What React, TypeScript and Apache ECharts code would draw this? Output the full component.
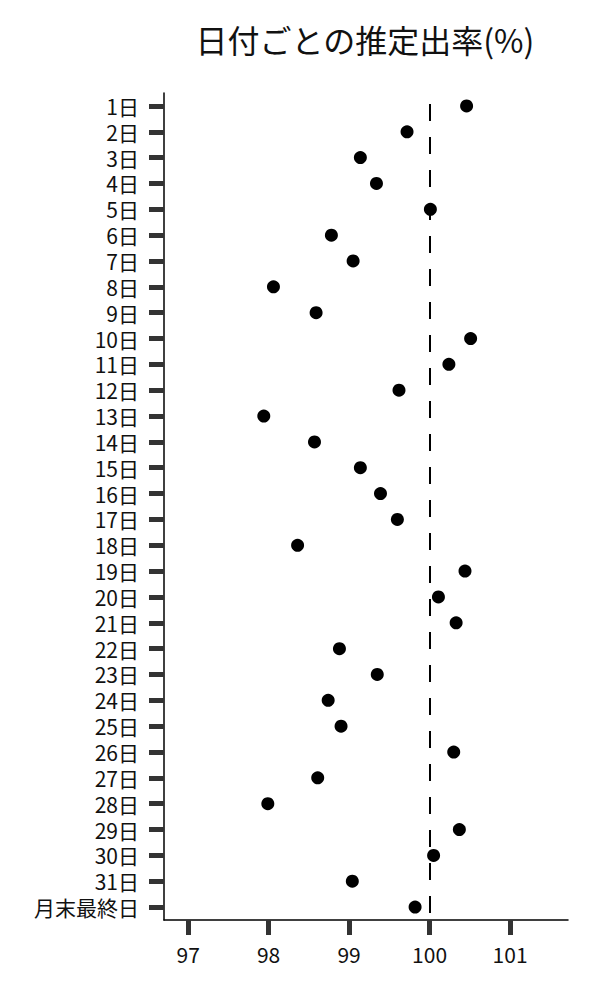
import React, { useEffect, useRef } from 'react';
import * as echarts from 'echarts';

// 日付カテゴリ（上から順）
const dayLabels: string[] = [
  '1日', '2日', '3日', '4日', '5日', '6日', '7日', '8日', '9日', '10日',
  '11日', '12日', '13日', '14日', '15日', '16日', '17日', '18日', '19日', '20日',
  '21日', '22日', '23日', '24日', '25日', '26日', '27日', '28日', '29日', '30日',
  '31日', '月末最終日',
];

// 推定出率(%)
const rateValues: number[] = [
  100.46, 99.72, 99.14, 99.34, 100.01, 98.78, 99.05, 98.06, 98.59, 100.51,
  100.24, 99.62, 97.94, 98.57, 99.14, 99.39, 99.6, 98.36, 100.44, 100.11,
  100.33, 98.88, 99.35, 98.74, 98.9, 100.3, 98.61, 97.99, 100.37, 100.05,
  99.04, 99.82,
];

const xTicks: number[] = [97, 98, 99, 100, 101];
const xMin = 96.7;
const xMax = 101.72;
const referenceValue = 100;

const FONT = '"Noto Sans CJK JP", "Noto Sans", sans-serif';

const App: React.FC = () => {
  const chartRef = useRef<HTMLDivElement>(null);

  useEffect(() => {
    if (!chartRef.current) return;
    const chart = echarts.init(chartRef.current, undefined, { renderer: 'svg' });

    const option: echarts.EChartsOption = {
      animation: false,
      backgroundColor: '#fff',
      title: {
        text: '日付ごとの推定出率(%)',
        left: 360,
        textAlign: 'center',
        top: 18,
        textStyle: { fontFamily: FONT, fontSize: 32, fontWeight: 'normal', color: '#111' },
      },
      grid: { left: 164, right: 32, top: 93, bottom: 80 },
      xAxis: {
        type: 'value',
        min: xMin,
        max: xMax,
        splitLine: { show: false },
        axisLine: { show: true, lineStyle: { color: '#000', width: 1.5 } },
        axisTick: {
          show: true,
          length: 15,
          lineStyle: { color: '#333', width: 5 },
          customValues: xTicks,
        },
        axisLabel: {
          margin: 23,
          fontFamily: FONT,
          fontSize: 21,
          color: '#111',
          customValues: xTicks,
        },
      },
      yAxis: {
        type: 'category',
        data: dayLabels,
        inverse: true,
        boundaryGap: true,
        axisLine: { show: true, lineStyle: { color: '#000', width: 1.5 } },
        axisTick: {
          show: true,
          alignWithLabel: true,
          length: 15,
          lineStyle: { color: '#333', width: 5 },
        },
        axisLabel: {
          interval: 0,
          margin: 25,
          fontFamily: FONT,
          fontSize: 21,
          lineHeight: 20,
          color: '#111',
        },
        splitLine: { show: false },
      },
      series: [
        {
          type: 'scatter',
          data: rateValues.map((v, i) => [v, dayLabels[i]]),
          symbol: 'circle',
          symbolSize: 13,
          itemStyle: { color: '#000', opacity: 1 },
          z: 3,
          markLine: {
            silent: true,
            symbol: ['none', 'none'],
            label: { show: false },
            lineStyle: { color: '#000', width: 2, type: [17, 16], dashOffset: 22, opacity: 1 },
            data: [{ xAxis: referenceValue }],
          },
        },
      ],
    };

    chart.setOption(option);
    return () => {
      chart.dispose();
    };
  }, []);

  return (
    <div
      ref={chartRef}
      style={{ position: 'fixed', left: 0, top: 0, width: 600, height: 1000 }}
    />
  );
};

export default App;
